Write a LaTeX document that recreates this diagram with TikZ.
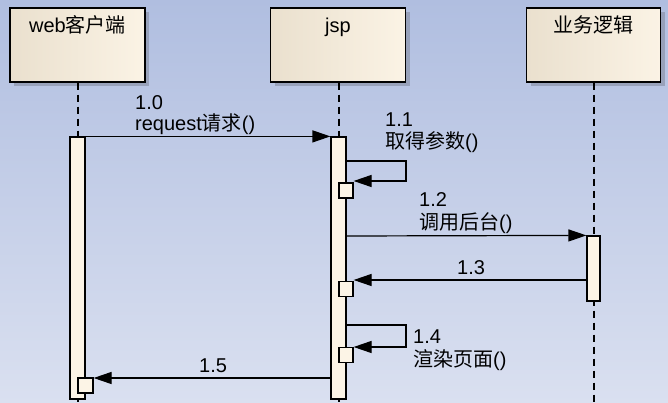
\documentclass[tikz,border=0pt]{standalone}
\usepackage{fontspec}
\setmainfont{Liberation Sans}
\newfontfamily\cjk{Noto Sans CJK SC}
\usetikzlibrary{arrows.meta,shadows}
\definecolor{bgtop}{RGB}{176,190,224}
\definecolor{bgbot}{RGB}{218,224,240}
\definecolor{boxl}{RGB}{234,224,206}
\definecolor{boxr}{RGB}{251,243,229}
\definecolor{barfill}{RGB}{252,244,230}
\definecolor{shadowc}{RGB}{140,148,170}
\begin{document}
\begin{tikzpicture}[x=1pt,y=-1pt,
  font=\fontsize{20}{22}\selectfont,
  actor/.style={draw, line width=1.3pt, minimum width=135pt, minimum height=74pt, inner sep=0pt,
    left color=boxl, right color=boxr,
    drop shadow={shadow xshift=4pt, shadow yshift=-4pt, fill=shadowc, opacity=0.7}},
  actortext/.style={anchor=base, inner sep=0pt},
  lifeline/.style={line width=1.2pt, dash pattern=on 7pt off 5pt},
  actbar/.style={draw, line width=1.2pt, fill=barfill, minimum width=15pt, inner sep=0pt},
  sbox/.style={actbar, minimum width=14pt, minimum height=15pt},
  msg/.style={line width=1.2pt, -{Triangle[length=18pt,width=12pt]}},
  lbl/.style={anchor=base west, inner sep=0pt}
]
\fill[top color=bgtop, bottom color=bgbot] (0,0) rectangle (668,403);
\useasboundingbox (0,0) rectangle (668,403);

% actors
\node[actor] (A) at (77.5,45) {};
\node[actor] (J) at (338,45) {};
\node[actor, minimum width=134pt] (B) at (593.5,45) {};
\node[actortext] (At) at (77.5,33) {web{\cjk 客户端}};
\node[actortext] (Jt) at (338,33) {jsp};
\node[actortext] (Bt) at (593.5,33) {{\cjk 业务逻辑}};

% lifelines
\coordinate (Aend) at (78,403);
\coordinate (Jend) at (339,403);
\coordinate (Bend) at (594,403);
\draw[lifeline] (A.south -| Aend) -- (Aend);
\draw[lifeline] (J.south -| Jend) -- (Jend);
\draw[lifeline] (B.south -| Bend) -- (Bend);

% activation bars
\node[actbar, minimum height=262pt] (bar1) at (77.5,268) {};
\node[actbar, minimum height=262pt] (bar2) at (338.5,268) {};
\node[actbar, minimum width=13pt, minimum height=65pt] (bar3) at (593.5,268.5) {};

% small execution boxes
\node[sbox] (s1) at (346,190.5) {};
\node[sbox] (s3) at (346,289) {};
\node[sbox] (s4) at (346,355) {};
\node[sbox, minimum width=15pt] (s5) at (85.5,385.5) {};

% helper coordinates
\coordinate (y11a) at (0,161);
\coordinate (y11b) at (0,181);
\coordinate (x11) at (406,0);
\coordinate (y12) at (0,236);
\coordinate (y13) at (0,280);
\coordinate (y14a) at (0,325);
\coordinate (y14b) at (0,347);
\coordinate (y15) at (0,378);

% messages
\draw[msg] (bar1.north east) -- (bar2.north west);
\draw[msg] (bar2.east |- y11a) -- (x11 |- y11a) -- (x11 |- y11b) -- (s1.east |- y11b);
\draw[msg] (bar2.east |- y12) -- (bar3.north west);
\draw[msg] (bar3.west |- y13) -- (s3.east |- y13);
\draw[msg] (bar2.east |- y14a) -- (x11 |- y14a) -- (x11 |- y14b) -- (s4.east |- y14b);
\draw[msg] (bar2.west |- y15) -- (s5.east |- y15);

% labels
\node[lbl] (l10a) at (135,110) {1.0};
\node[lbl] (l10b) at (135,131) {request{\cjk 请求}()};
\node[lbl] (l11a) at (385,127) {1.1};
\node[lbl] (l11b) at (385,149) {{\cjk 取得参数}()};
\node[lbl] (l12a) at (419,207) {1.2};
\node[lbl] (l12b) at (419,229) {{\cjk 调用后台}()};
\node[lbl] (l13) at (457,274) {1.3};
\node[lbl] (l14a) at (413,343) {1.4};
\node[lbl] (l14b) at (413,366) {{\cjk 渲染页面}()};
\node[lbl] (l15) at (199,372) {1.5};
\end{tikzpicture}
\end{document}
